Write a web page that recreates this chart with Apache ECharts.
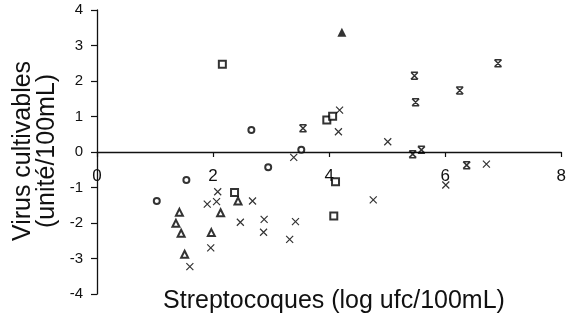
<!DOCTYPE html>
<html>
<head>
<meta charset="utf-8">
<script src="https://cdn.jsdelivr.net/npm/echarts@6/dist/echarts.min.js"></script>
<style>html,body{margin:0;padding:0;background:#fff}#c{width:569px;height:326px}</style>
</head>
<body>
<div id="c"></div>
<script>
// Data
var xTitle = 'Streptocoques (log ufc/100mL)';
var yTitle = 'Virus cultivables\n(unité/100mL)';

var circleX = [1.54, 1.03, 2.66, 2.95, 3.52];
var circleY = [-0.79, -1.38, 0.62, -0.43, 0.06];

var squareX = [2.16, 3.96, 4.06, 2.37, 4.11, 4.08];
var squareY = [2.47, 0.90, 1.01, -1.14, -0.84, -1.80];

var triangleX = [1.42, 1.36, 1.45, 1.51, 2.43, 2.13, 1.97];
var triangleY = [-1.70, -2.01, -2.29, -2.88, -1.38, -1.71, -2.27];

var filledTriangleX = [4.22];
var filledTriangleY = [3.37];

var crossX = [2.08, 2.06, 1.90, 2.68, 2.88, 2.47, 2.87, 1.96, 1.60, 3.42, 3.32, 4.76, 3.39, 4.18, 4.16, 5.01, 6.71, 6.01];
var crossY = [-1.12, -1.40, -1.47, -1.38, -1.90, -1.98, -2.26, -2.70, -3.23, -1.96, -2.46, -1.35, -0.15, 1.18, 0.57, 0.29, -0.34, -0.93];

var starX = [3.55, 5.47, 5.49, 6.25, 6.91, 5.44, 5.59, 6.37];
var starY = [0.67, 2.15, 1.40, 1.73, 2.50, -0.06, 0.06, -0.37];

function zip(xs, ys) { return xs.map(function (x, i) { return [x, ys[i]]; }); }

var FONT = 'Liberation Sans, Arial, sans-serif';
var chart = echarts.init(document.getElementById('c'));

function openSeries(symbol, size, xs, ys) {
  return {
    type: 'scatter', symbol: symbol, symbolSize: size, data: zip(xs, ys),
    itemStyle: { color: '#000', borderColor: '#000', borderWidth: 1.3 },
    emphasis: { disabled: true }
  };
}
function pathSeries(path, size, xs, ys, bw) {
  return {
    type: 'scatter', symbol: path, symbolSize: size, data: zip(xs, ys),
    itemStyle: { color: 'none', borderColor: '#000', borderWidth: bw },
    emphasis: { disabled: true }
  };
}

chart.setOption({
  animation: false,
  backgroundColor: '#fff',
  grid: { left: 97, right: 3, top: 10, bottom: 32 },
  xAxis: {
    type: 'value', min: 0, max: 8, interval: 2,
    offset: -142,
    axisLine: { onZero: false, lineStyle: { color: '#111', width: 1.3 } },
    axisTick: { show: true, inside: false, length: 5, lineStyle: { color: '#111', width: 1.2 } },
    axisLabel: { fontSize: 17, color: '#111', margin: 16, fontFamily: FONT },
    splitLine: { show: false }
  },
  yAxis: {
    type: 'value', min: -4, max: 4, interval: 1,
    axisLine: { show: true, onZero: false, lineStyle: { color: '#111', width: 1.3 } },
    axisTick: { show: true, inside: false, length: 6, lineStyle: { color: '#111', width: 1.2 } },
    axisLabel: { fontSize: 15, color: '#111', margin: 14, fontFamily: FONT },
    splitLine: { show: false }
  },
  graphic: [
    {
      type: 'text', x: 334, y: 301,
      style: { text: xTitle, font: '25px ' + FONT, fill: '#111', textAlign: 'center', textVerticalAlign: 'middle' }
    },
    {
      type: 'text', x: 35, y: 151, rotation: Math.PI / 2,
      style: { text: yTitle, font: '25px ' + FONT, fill: '#111', textAlign: 'center', textVerticalAlign: 'middle', lineHeight: 24 }
    }
  ],
  series: [
    openSeries('emptyCircle', 6, circleX, circleY),
    openSeries('emptyRect', 7, squareX, squareY),
    openSeries('emptyTriangle', 7, triangleX, triangleY),
    { type: 'scatter', symbol: 'triangle', symbolSize: 9, data: zip(filledTriangleX, filledTriangleY),
      itemStyle: { color: '#000' }, emphasis: { disabled: true } },
    pathSeries('path://M0,0L10,10M10,0L0,10', 7, crossX, crossY, 1.2),
    pathSeries('path://M0,0L10,10M10,0L0,10M0,0L10,0M0,10L10,10', 7, starX, starY, 1.5)
  ]
});
</script>
</body>
</html>
